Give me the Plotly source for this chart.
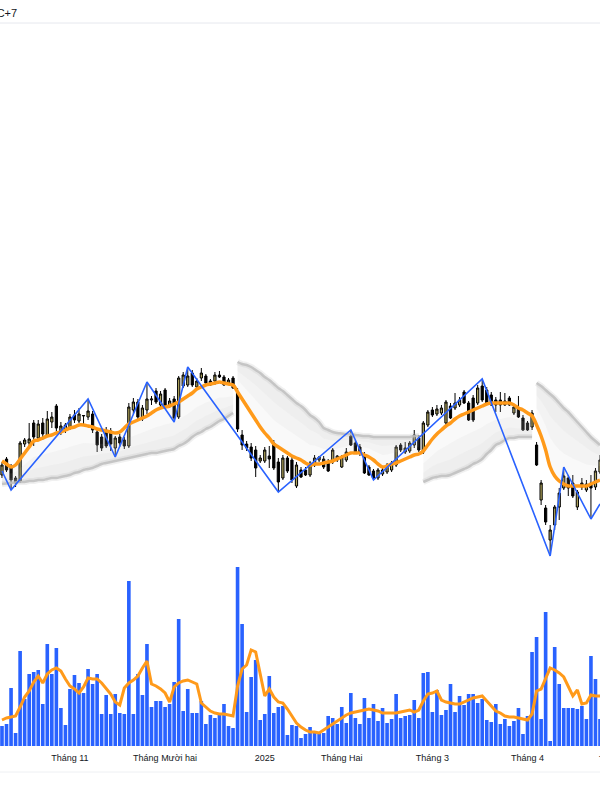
import pandas as pd
import plotly.graph_objects as go

# ---------------- data ----------------
HOLIDAYS = ["2025-01-01", "2025-01-27", "2025-01-28", "2025-01-29",
            "2025-01-30", "2025-01-31", "2025-04-07"]
DATES = [d.strftime("%Y-%m-%d") for d in pd.bdate_range("2024-10-11", "2025-04-24")
         if d.strftime("%Y-%m-%d") not in HOLIDAYS]

OPEN = [32.5, 34.1, 33.3, 32.2, 31.9, 35.6, 35.7, 37.7, 36.2, 37.7,
        36.5, 37.8, 39.4, 36.8, 37.0, 37.2, 38.5, 37.9, 38.4, 38.3,
        38.6, 36.8, 36.3, 37.0, 36.9, 35.2, 36.3, 36.0, 35.4, 39.0,
        39.8, 38.1, 39.0, 40.0, 40.9, 39.5, 41.0, 39.4, 40.1, 38.3,
        41.4, 41.5, 42.7, 41.3, 42.2, 42.4, 41.9, 41.9, 42.5, 42.3,
        41.7, 42.2, 40.8, 36.5, 35.6, 35.3, 35.0, 33.9, 33.9, 34.4,
        35.7, 33.8, 32.2, 34.2, 34.0, 31.4, 33.0, 33.0, 32.5, 33.5,
        34.0, 34.1, 33.8, 33.8, 34.0, 33.3, 34.0, 36.4, 35.7, 35.3,
        34.5, 33.3, 32.9, 32.2, 32.6, 32.8, 33.0, 33.5, 35.5, 34.8,
        34.9, 35.5, 36.2, 34.8, 37.5, 39.0, 38.6, 38.7, 37.7, 39.4,
        39.2, 39.5, 40.8, 39.7, 40.2, 39.7, 41.4, 41.0, 40.5, 40.0,
        40.0, 39.9, 40.2, 38.7, 39.2, 38.2, 37.7, 37.3, 35.5, 30.0,
        29.2, 26.0, 27.5, 29.3, 31.2, 32.2, 31.7, 29.3, 31.7, 31.0,
        31.7, 31.3, 32.8]
HIGH = [33.8, 34.3, 33.6, 32.4, 35.9, 36.2, 37.7, 38.0, 38.0, 38.2,
        38.9, 38.8, 39.6, 37.8, 37.7, 38.6, 39.0, 39.2, 38.5, 40.1,
        38.9, 37.1, 36.6, 37.3, 37.2, 36.4, 36.6, 36.3, 39.7, 40.2,
        40.1, 39.5, 41.8, 40.4, 41.2, 40.9, 41.2, 40.2, 40.4, 42.4,
        42.8, 43.3, 43.0, 42.2, 43.2, 42.6, 42.1, 42.8, 42.9, 42.5,
        42.2, 42.4, 41.2, 37.0, 35.9, 35.7, 35.4, 34.5, 35.3, 35.4,
        36.0, 34.2, 34.5, 34.4, 34.4, 33.8, 33.3, 33.3, 33.9, 34.5,
        34.4, 34.4, 34.1, 35.2, 34.5, 34.5, 35.2, 37.0, 36.0, 35.6,
        34.8, 33.5, 33.1, 33.2, 33.3, 33.7, 33.9, 35.5, 35.7, 35.8,
        35.9, 37.0, 36.5, 37.9, 39.0, 39.3, 39.5, 39.5, 40.0, 39.7,
        40.7, 40.3, 41.0, 39.9, 40.5, 41.5, 42.1, 41.3, 40.8, 40.3,
        40.8, 40.7, 40.4, 39.5, 40.4, 38.5, 37.9, 39.0, 35.8, 32.0,
        29.5, 27.5, 29.5, 31.2, 33.3, 32.5, 32.5, 31.0, 32.2, 32.0,
        32.5, 33.2, 34.5]
LOW = [32.2, 32.8, 31.0, 31.3, 31.7, 35.3, 35.4, 35.4, 35.9, 36.0,
       36.3, 37.2, 36.9, 36.5, 36.7, 37.0, 37.7, 37.7, 37.6, 38.0,
       36.7, 34.8, 34.9, 35.2, 34.9, 34.3, 35.3, 35.1, 35.2, 38.6,
       38.0, 37.9, 38.6, 39.5, 39.6, 39.3, 39.2, 39.2, 37.8, 38.1,
       41.2, 41.3, 41.3, 41.1, 41.9, 41.6, 41.4, 41.5, 42.2, 41.4,
       41.5, 41.1, 36.8, 35.0, 34.9, 33.9, 32.3, 33.7, 33.7, 33.2,
       33.0, 30.8, 32.0, 32.7, 31.7, 31.2, 32.2, 32.4, 32.3, 33.3,
       33.8, 33.1, 32.8, 33.6, 33.8, 33.2, 33.8, 35.4, 34.6, 34.4,
       32.6, 32.4, 32.0, 32.0, 32.4, 32.6, 32.8, 33.3, 34.8, 34.6,
       34.7, 35.2, 34.8, 34.6, 37.3, 38.3, 38.4, 38.5, 37.5, 38.1,
       39.0, 39.3, 39.6, 37.9, 37.8, 39.5, 39.8, 39.6, 39.4, 38.8,
       38.8, 39.4, 39.4, 38.5, 38.2, 36.9, 36.9, 37.0, 33.4, 29.5,
       27.5, 24.4, 27.0, 28.0, 31.0, 30.4, 30.2, 29.0, 31.0, 30.8,
       28.1, 31.0, 32.6]
CLOSE = [33.5, 33.0, 32.0, 31.7, 35.7, 36.0, 36.1, 36.3, 37.6, 36.6,
         38.1, 38.3, 37.2, 37.4, 37.5, 38.3, 38.0, 38.6, 38.45, 38.9,
         37.0, 35.5, 35.2, 35.4, 35.6, 36.2, 35.7, 35.4, 39.3, 39.8,
         38.3, 39.2, 40.1, 40.1, 39.8, 40.6, 39.4, 39.9, 38.2, 42.2,
         42.5, 42.4, 41.5, 41.9, 42.7, 41.7, 41.5, 42.5, 42.3, 41.5,
         42.0, 41.2, 37.1, 35.5, 35.2, 34.2, 33.2, 34.2, 35.0, 34.1,
         33.2, 31.8, 34.2, 32.9, 32.0, 33.5, 32.3, 32.5, 33.7, 34.2,
         34.3, 33.3, 32.9, 35.0, 34.4, 34.3, 34.8, 35.5, 34.7, 34.7,
         32.7, 32.5, 32.2, 33.0, 33.0, 33.5, 33.7, 35.3, 35.0, 35.2,
         35.7, 36.5, 35.0, 37.7, 38.8, 38.5, 39.1, 39.2, 39.8, 38.2,
         39.7, 40.0, 39.7, 38.0, 38.0, 41.2, 40.0, 39.7, 39.5, 39.5,
         39.5, 39.5, 39.5, 39.3, 38.3, 37.0, 37.0, 38.7, 33.5, 31.7,
         27.8, 27.0, 29.3, 30.7, 32.4, 31.2, 30.4, 30.8, 31.3, 31.6,
         31.2, 32.9, 34.0]
PRICE_MA = [33.9, 33.6, 33.3, 33.5, 34.1, 34.7, 35.3, 35.9, 36.0, 36.2,
            36.4, 36.5, 36.7, 36.8, 37.0, 37.2, 37.3, 37.5, 37.5, 37.4,
            37.3, 37.1, 37.0, 36.9, 36.8, 36.7, 36.8, 37.2, 37.6, 37.8,
            38.0, 38.2, 38.4, 38.7, 39.0, 39.2, 39.3, 39.4, 39.6, 39.8,
            40.1, 40.4, 40.7, 41.1, 41.3, 41.5, 41.6, 41.7, 41.8, 41.7,
            41.6, 41.5, 40.8, 40.1, 39.4, 38.7, 38.0, 37.3, 36.7, 36.2,
            35.6, 35.3, 35.0, 34.7, 34.4, 34.2, 34.0, 33.7, 33.5, 33.6,
            33.6, 33.7, 33.8, 33.9, 34.1, 34.3, 34.5, 34.7, 34.7, 34.7,
            34.5, 34.3, 34.0, 33.6, 33.3, 33.4, 33.6, 33.7, 33.9, 34.1,
            34.3, 34.5, 34.6, 34.9, 35.5, 36.1, 36.6, 37.0, 37.4, 37.7,
            38.1, 38.4, 38.6, 38.8, 39.0, 39.2, 39.4, 39.6, 39.7, 39.7,
            39.7, 39.7, 39.7, 39.5, 39.2, 39.0, 38.7, 38.4, 37.5, 36.4,
            35.0, 33.3, 32.4, 31.9, 31.6, 31.4, 31.4, 31.4, 31.4, 31.4,
            31.6, 31.8, 32.0]
VOLUME = [2.0, 2.2, 5.8, 1.3, 9.5, 4.7, 7.2, 7.4, 7.6, 4.2,
          10.2, 7.2, 9.8, 3.8, 2.1, 5.7, 7.1, 6.3, 5.3, 7.7,
          6.2, 7.2, 3.2, 5.1, 3.2, 5.2, 3.3, 3.2, 16.5, 3.2,
          7.2, 5.1, 10.2, 3.9, 4.5, 4.5, 3.9, 4.2, 6.4, 12.7,
          3.5, 5.7, 3.3, 3.3, 4.5, 2.2, 3.1, 2.8, 3.1, 4.2,
          2.0, 1.8, 17.9, 12.2, 3.4, 6.9, 8.6, 2.6, 3.2, 7.0,
          3.3, 3.9, 4.0, 1.1, 2.1, 2.0, 0.8, 1.2, 1.9, 1.3,
          1.3, 1.3, 3.0, 2.8, 2.2, 3.9, 2.3, 5.3, 2.8, 2.2,
          4.8, 2.8, 4.2, 2.5, 3.8, 2.3, 2.7, 5.2, 2.8, 3.0,
          3.1, 4.6, 2.8, 7.3, 7.4, 3.4, 5.6, 3.1, 3.6, 6.2,
          3.4, 5.0, 4.1, 5.2, 5.2, 4.3, 4.7, 2.6, 2.4, 4.2,
          2.2, 2.7, 2.0, 2.5, 3.8, 1.2, 3.0, 9.4, 10.9, 2.7,
          13.4, 0.5, 9.9, 6.2, 3.8, 3.8, 3.8, 3.7, 4.0, 2.7,
          9.0, 6.7, 2.7]
VOLUME_MA = [2.6, 2.8, 2.9, 3.0, 3.9, 4.9, 5.5, 6.4, 7.0, 6.3,
             7.2, 7.6, 7.8, 7.5, 6.7, 6.0, 5.7, 5.3, 5.9, 6.8,
             6.7, 6.7, 6.3, 5.7, 5.2, 4.4, 4.1, 5.8, 6.3, 6.6,
             7.0, 7.8, 8.5, 6.2, 6.0, 5.7, 5.3, 4.4, 5.9, 6.3,
             6.5, 6.6, 6.4, 6.2, 4.3, 3.9, 3.5, 3.3, 3.2, 3.2,
             3.1, 3.0, 6.0, 7.7, 8.1, 9.6, 9.4, 7.2, 5.0, 5.7,
             4.9, 4.4, 4.3, 3.7, 3.0, 2.3, 1.9, 1.6, 1.4, 1.4,
             1.3, 1.6, 1.9, 2.2, 2.5, 2.8, 3.1, 3.3, 3.4, 3.5,
             3.6, 3.7, 3.6, 3.5, 3.3, 3.3, 3.3, 3.3, 3.4, 3.5,
             3.6, 3.4, 3.6, 4.5, 5.2, 5.3, 5.5, 4.6, 4.4, 4.3,
             4.2, 4.2, 4.4, 4.6, 4.8, 4.9, 5.0, 4.5, 4.0, 3.5,
             3.3, 3.0, 2.9, 2.9, 2.8, 2.7, 2.6, 3.2, 5.5, 5.7,
             6.7, 7.8, 7.6, 7.3, 6.9, 5.9, 5.0, 5.6, 4.2, 4.3,
             5.1, 5.0, 5.0]
ZIGZAG_IDX = [0, 2, 19, 25, 32, 38, 41, 61, 77, 82, 106, 121, 124, 130, 132]
ZIGZAG_PRICE = [32.9, 31.0, 40.1, 34.3, 41.8, 37.8, 43.3, 30.8, 37.0, 32.0,
                42.1, 24.4, 33.3, 28.1, 29.6]
BAND_EDGE = [31.6, 31.65, 31.7, 31.75, 31.8, 31.8, 31.9, 31.9, 32.0, 32.0,
             32.1, 32.2, 32.2, 32.3, 32.4, 32.5, 32.7, 32.8, 33.0, 33.1,
             33.2, 33.4, 33.6, 33.7, 33.8, 33.9, 34.0, 34.1, 34.2, 34.3,
             34.4, 34.5, 34.6, 34.7, 34.7, 34.8, 34.9, 35.0, 35.1, 35.4,
             35.6, 35.9, 36.3, 36.6, 36.8, 37.1, 37.3, 37.6, 37.9, 38.1,
             38.4, 38.7,
             43.8, 43.6, 43.5, 43.3, 43.0, 42.7, 42.3, 42.0, 41.6, 41.2,
             40.9, 40.5, 40.1, 39.7, 39.4, 39.0, 38.5, 38.2, 37.8, 37.2,
             37.0, 36.8, 36.7, 36.65, 36.6, 36.6, 36.5, 36.45, 36.4, 36.4,
             36.3, 36.3, 36.3, 36.3, 36.3, 36.3, 36.3, 36.3, 36.3, 36.4,
             36.4,
             31.8, 32.0, 32.2, 32.3, 32.4, 32.4, 32.5, 32.7, 32.9, 33.1,
             33.3, 33.6, 33.8, 34.1, 34.6, 35.0, 35.5, 35.7, 36.0, 36.2,
             36.2, 36.3, 36.3, 36.3, 36.3,
             41.7, 41.4, 41.0, 40.6, 40.2, 39.7, 39.2, 38.8, 38.3, 37.8,
             37.3, 36.8, 36.3, 35.9, 35.5]
BAND_SEGMENTS = [(0, 52), (52, 93), (93, 118), (118, 133)]
MONTH_LABELS = ["Tháng 11", "Tháng Mười hai", "2025", "Tháng Hai", "Tháng 3", "Tháng 4"]
NEXT_MONTH_LABEL = "Tháng 5"
TIMEZONE_LABEL = "UTC+7"

# ---------------- styles ----------------
OLIVE = "#b2a65c"
ORANGE = "#ff9a1a"
BLUE = "#2962ff"
TEXT = "#131722"
W, H = 600, 800
M_T, M_B = 24, 54

fig = go.Figure()

# gradient-like bands
for s, e in BAND_SEGMENTS:
    xs = DATES[s:e]
    edge = BAND_EDGE[s:e]
    inner = PRICE_MA[s:e]
    for frac in (1.0, 0.6, 0.3):
        mid = [a + (b - a) * frac for a, b in zip(edge, inner)]
        fig.add_trace(go.Scatter(x=xs, y=edge, mode="lines", line=dict(width=0),
                                 hoverinfo="skip"))
        fig.add_trace(go.Scatter(x=xs, y=mid, mode="lines", line=dict(width=0),
                                 fill="tonexty", fillcolor="rgba(200,200,200,0.10)",
                                 hoverinfo="skip"))
    fig.add_trace(go.Scatter(x=xs, y=edge, mode="lines",
                             line=dict(color="rgba(185,185,185,0.22)", width=6, shape="spline"),
                             hoverinfo="skip"))
    fig.add_trace(go.Scatter(x=xs, y=edge, mode="lines",
                             line=dict(color="rgba(190,190,190,0.85)", width=2.5, shape="spline"),
                             hoverinfo="skip"))

# candles
fig.add_trace(go.Candlestick(
    x=DATES, open=OPEN, high=HIGH, low=LOW, close=CLOSE,
    increasing=dict(fillcolor=OLIVE, line=dict(color="#000000", width=1)),
    decreasing=dict(fillcolor="#000000", line=dict(color="#000000", width=1)),
    whiskerwidth=0, hoverinfo="skip"))

# moving average
fig.add_trace(go.Scatter(x=DATES, y=PRICE_MA, mode="lines",
                         line=dict(color=ORANGE, width=3.5, shape="spline"), hoverinfo="skip"))

# zigzag
fig.add_trace(go.Scatter(x=[DATES[i] for i in ZIGZAG_IDX], y=ZIGZAG_PRICE, mode="lines",
                         line=dict(color=BLUE, width=1.6), hoverinfo="skip"))

# volume
fig.add_trace(go.Bar(x=DATES, y=VOLUME, marker=dict(color=BLUE, line=dict(width=0)),
                     yaxis="y2", hoverinfo="skip"))
fig.add_trace(go.Scatter(x=DATES, y=VOLUME_MA, mode="lines", yaxis="y2",
                         line=dict(color=ORANGE, width=3), hoverinfo="skip"))

# month ticks: first trading day of each new month
tickvals = [DATES[i] for i in range(1, len(DATES)) if DATES[i][:7] != DATES[i - 1][:7]]

plot_h = H - M_T - M_B
fig.update_layout(
    width=W, height=H,
    margin=dict(l=0, r=0, t=M_T, b=M_B),
    paper_bgcolor="white", plot_bgcolor="white",
    showlegend=False, bargap=0.2, hovermode=False,
    font=dict(family="Liberation Sans, Arial, sans-serif", color=TEXT),
    xaxis=dict(type="category", range=[-0.44, 132.0], showgrid=False, zeroline=False,
               showline=False, rangeslider=dict(visible=False),
               tickmode="array", tickvals=tickvals, ticktext=MONTH_LABELS,
               ticks="outside", ticklen=3, tickcolor="rgba(0,0,0,0)",
               tickfont=dict(size=9, color=TEXT)),
    yaxis=dict(range=[5.4, 77.6], visible=False),
    yaxis2=dict(range=[0, 72.2], overlaying="y", visible=False),
    shapes=[
        dict(type="line", xref="paper", yref="paper", x0=0, x1=1,
             y0=1 + 1.0 / plot_h, y1=1 + 1.0 / plot_h, line=dict(color="#e6e8ee", width=1)),
        dict(type="line", xref="paper", yref="paper", x0=0, x1=1,
             y0=-26.0 / plot_h, y1=-26.0 / plot_h, line=dict(color="#eef0f3", width=1)),
    ],
    annotations=[
        dict(text=TIMEZONE_LABEL, xref="paper", yref="paper", x=19.0 / W, y=1 + 11.0 / plot_h,
             xanchor="right", yanchor="middle", showarrow=False,
             font=dict(size=11, color=TEXT)),
        dict(text=NEXT_MONTH_LABEL, xref="paper", yref="paper", x=597.0 / W, y=-13.0 / plot_h,
             xanchor="left", yanchor="middle", showarrow=False,
             font=dict(size=9, color=TEXT)),
    ],
)

fig.write_html("out.html", config={"displayModeBar": False},
               post_script="document.body.style.margin='0px';")
